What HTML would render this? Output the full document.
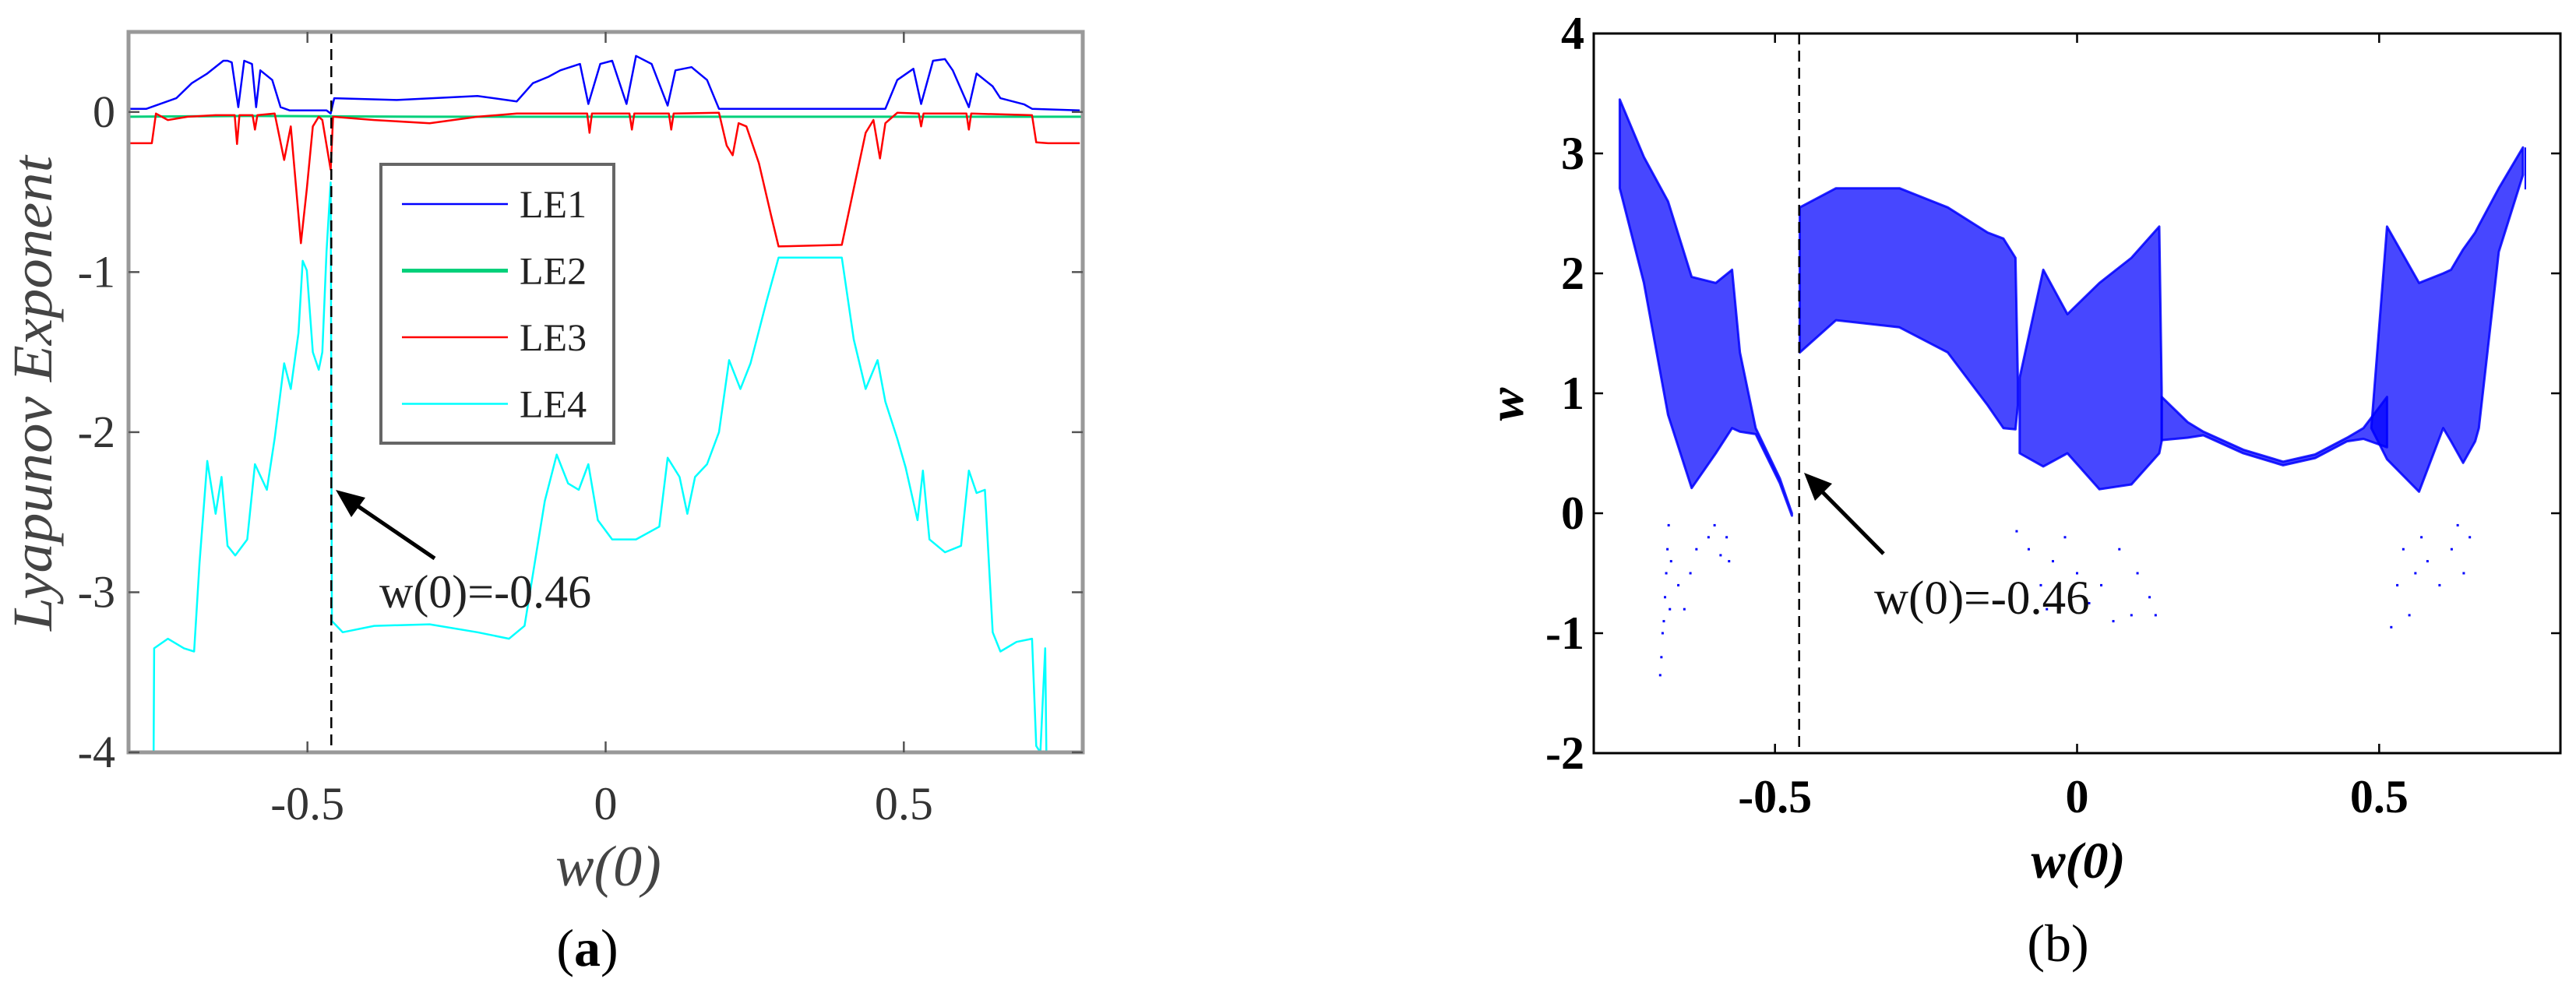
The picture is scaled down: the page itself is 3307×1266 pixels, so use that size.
<!DOCTYPE html>
<html><head><meta charset="utf-8"><style>
html,body{margin:0;padding:0;background:#fff;}
svg{display:block;}
</style></head><body>
<svg id="fig" width="3307" height="1266" viewBox="0 0 3307 1266" xmlns="http://www.w3.org/2000/svg" font-family="'Liberation Serif', serif">
<g id="pa"></g>
<g id="pb"></g>
</svg>
<script>
// ---------- Panel (a) data ----------
const le1X=[-0.8,-0.77,-0.72,-0.694,-0.668,-0.641,-0.634,-0.627,-0.616,-0.606,-0.593,-0.586,-0.579,-0.559,-0.545,-0.53,-0.468,-0.461,-0.455,-0.35,-0.215,-0.149,-0.122,-0.096,-0.076,-0.043,-0.029,-0.009,0.011,0.035,0.051,0.077,0.104,0.117,0.144,0.170,0.19,0.469,0.489,0.516,0.529,0.549,0.569,0.582,0.609,0.622,0.649,0.662,0.702,0.715,0.795];
const le1Y=[0.02,0.02,0.086,0.18,0.24,0.32,0.32,0.31,0.03,0.32,0.3,0.03,0.26,0.2,0.03,0.01,0.01,-0.01,0.086,0.075,0.1,0.066,0.18,0.22,0.26,0.3,0.05,0.3,0.32,0.05,0.35,0.3,0.04,0.26,0.28,0.2,0.02,0.02,0.2,0.27,0.05,0.32,0.33,0.26,0.03,0.24,0.16,0.086,0.047,0.02,0.01];
const le2X=[-0.8,-0.6,-0.3,0,0.3,0.6,0.8];
const le2Y=[-0.03,-0.025,-0.03,-0.03,-0.03,-0.03,-0.03];
const le3X=[-0.797,-0.761,-0.754,-0.734,-0.701,-0.654,-0.622,-0.618,-0.614,-0.592,-0.588,-0.584,-0.555,-0.539,-0.528,-0.511,-0.501,-0.491,-0.481,-0.475,-0.461,-0.457,-0.388,-0.295,-0.215,-0.149,-0.031,-0.027,-0.023,0.040,0.044,0.048,0.106,0.110,0.114,0.19,0.203,0.213,0.223,0.236,0.257,0.277,0.29,0.396,0.416,0.436,0.449,0.46,0.469,0.489,0.525,0.529,0.533,0.605,0.609,0.613,0.715,0.722,0.742,0.795];
const le3Y=[-0.195,-0.195,-0.01,-0.05,-0.03,-0.02,-0.02,-0.2,-0.02,-0.02,-0.11,-0.02,-0.01,-0.3,-0.09,-0.82,-0.48,-0.09,-0.03,-0.05,-0.36,-0.03,-0.05,-0.07,-0.03,-0.01,-0.01,-0.13,-0.01,-0.01,-0.11,-0.01,-0.01,-0.11,-0.01,-0.005,-0.21,-0.27,-0.07,-0.09,-0.32,-0.64,-0.84,-0.83,-0.48,-0.13,-0.05,-0.29,-0.07,-0.005,-0.01,-0.09,-0.01,-0.01,-0.11,-0.01,-0.02,-0.19,-0.195,-0.195];
const le4X=[-0.758,-0.757,-0.734,-0.707,-0.690,-0.681,-0.668,-0.654,-0.644,-0.634,-0.621,-0.601,-0.588,-0.568,-0.555,-0.539,-0.528,-0.515,-0.508,-0.501,-0.491,-0.481,-0.475,-0.468,-0.461,-0.459,-0.441,-0.388,-0.295,-0.215,-0.162,-0.136,-0.116,-0.102,-0.082,-0.063,-0.045,-0.029,-0.013,0.011,0.051,0.090,0.104,0.124,0.137,0.150,0.170,0.190,0.207,0.226,0.243,0.270,0.290,0.396,0.416,0.436,0.456,0.469,0.489,0.503,0.523,0.532,0.543,0.569,0.596,0.609,0.622,0.636,0.649,0.662,0.689,0.715,0.722,0.729,0.737,0.739];
const le4Y=[-4,-3.35,-3.29,-3.35,-3.37,-2.82,-2.18,-2.51,-2.28,-2.71,-2.77,-2.67,-2.2,-2.36,-2.04,-1.57,-1.73,-1.38,-0.93,-0.99,-1.5,-1.61,-1.5,-0.87,-0.44,-3.18,-3.25,-3.21,-3.2,-3.25,-3.29,-3.21,-2.75,-2.43,-2.14,-2.32,-2.36,-2.2,-2.55,-2.67,-2.67,-2.59,-2.16,-2.28,-2.51,-2.28,-2.2,-2.0,-1.55,-1.73,-1.57,-1.18,-0.91,-0.91,-1.42,-1.73,-1.55,-1.81,-2.04,-2.22,-2.55,-2.24,-2.67,-2.75,-2.71,-2.24,-2.38,-2.36,-3.25,-3.37,-3.31,-3.29,-3.96,-4,-3.35,-4];
const aXTicks=[-0.5,0,0.5], aXTickLabels=["-0.5","0","0.5"];
const aYTicks=[-4,-3,-2,-1,0], aYTickLabels=["-4","-3","-2","-1","0"];
const legendNames=["LE1","LE2","LE3","LE4"];

// ---------- Panel (b) data (band envelopes + sparse points) ----------
const bandAx=[-0.757,-0.717,-0.677,-0.638,-0.598,-0.571,-0.558,-0.532,-0.492,-0.472];
const bandAhi=[3.45,2.97,2.6,1.97,1.92,2.03,1.34,0.71,0.29,0.0];
const bandAlo=[2.71,1.92,0.82,0.21,0.5,0.71,0.68,0.66,0.25,-0.02];
const bandBx=[-0.459,-0.399,-0.294,-0.214,-0.148,-0.122,-0.102,-0.098];
const bandBhi=[2.55,2.71,2.71,2.55,2.34,2.29,2.13,1.1];
const bandBlo=[1.34,1.61,1.55,1.34,0.9,0.71,0.7,0.9];
const bandCx=[-0.095,-0.056,-0.016,0.037,0.09,0.136,0.14];
const bandChi=[1.13,2.03,1.66,1.92,2.13,2.39,1.03];
const bandClo=[0.5,0.39,0.5,0.2,0.24,0.5,0.6];
const bandDx=[0.14,0.183,0.209,0.275,0.341,0.394,0.447,0.474,0.513];
const bandDhi=[0.97,0.76,0.68,0.53,0.43,0.49,0.63,0.71,0.97];
const bandDlo=[0.61,0.63,0.65,0.5,0.4,0.46,0.6,0.62,0.55];
const bandEx=[0.487,0.513,0.566,0.606,0.619,0.639,0.659,0.665,0.698,0.738];
const bandEhi=[0.71,2.39,1.92,2.0,2.03,2.2,2.34,2.4,2.71,3.05];
const bandElo=[0.71,0.45,0.18,0.71,0.6,0.42,0.6,0.71,2.18,2.82];
const dotX=[-0.69,-0.688,-0.686,-0.684,-0.682,-0.68,-0.678,-0.676,-0.674,-0.672,-0.66,-0.65,-0.64,-0.63,-0.61,-0.6,-0.59,-0.58,-0.576,-0.1,-0.08,-0.06,-0.05,-0.04,-0.02,0.0,0.02,0.04,0.06,0.07,0.09,0.1,0.12,0.13,0.52,0.53,0.54,0.55,0.56,0.57,0.58,0.6,0.62,0.63,0.64,0.65];
const dotY=[-1.35,-1.2,-1.0,-0.9,-0.7,-0.5,-0.3,-0.1,-0.8,-0.4,-0.6,-0.8,-0.5,-0.3,-0.2,-0.1,-0.35,-0.2,-0.4,-0.15,-0.3,-0.6,-0.8,-0.4,-0.2,-0.5,-0.75,-0.6,-0.9,-0.3,-0.85,-0.5,-0.7,-0.85,-0.95,-0.6,-0.3,-0.85,-0.5,-0.2,-0.4,-0.6,-0.3,-0.1,-0.5,-0.2];
const bXTicks=[-0.5,0,0.5], bXTickLabels=["-0.5","0","0.5"];
const bYTicks=[-2,-1,0,1,2,3,4], bYTickLabels=["-2","-1","0","1","2","3","4"];

const NS="http://www.w3.org/2000/svg";
function mk(parent,tag,attrs,text){const e=document.createElementNS(NS,tag);for(const k in attrs)e.setAttribute(k,attrs[k]);if(text!==undefined)e.textContent=text;parent.appendChild(e);return e;}

// ---------- Panel (a) ----------
const pa=document.getElementById('pa');
const aL=165,aR=1390,aT=41,aB=966;
const ax=v=>aL+(v+0.8)/1.6*(aR-aL);
const ay=v=>aB-(v+4)/4.5*(aB-aT);
function line(parent,xs,ys,sx,sy,color,w,name){
  let d='';xs.forEach((x,i)=>{d+=(i?'L':'M')+sx(x).toFixed(1)+','+sy(ys[i]).toFixed(1);});
  const p=mk(parent,'path',{d:d,fill:'none',stroke:color,'stroke-width':w,'stroke-linejoin':'round'});
  
  
  return p;
}
line(pa,le2X,le2Y,ax,ay,'#00d07a',3,'series-le2');
line(pa,le1X,le1Y,ax,ay,'#0000ff',2.5,'series-le1');
line(pa,le3X,le3Y,ax,ay,'#ff0000',2.5,'series-le3');
line(pa,le4X,le4Y,ax,ay,'#00ffff',2.5,'series-le4');
const dA=mk(pa,'line',{x1:ax(-0.46),x2:ax(-0.46),y1:aT,y2:aB,stroke:'#000','stroke-width':2.5,'stroke-dasharray':'14,8'});


const boxA=mk(pa,'rect',{x:aL,y:aT,width:aR-aL,height:aB-aT,fill:'none',stroke:'#999','stroke-width':5});


aXTicks.forEach((t,i)=>{
  mk(pa,'line',{x1:ax(t),x2:ax(t),y1:aB,y2:aB-14,stroke:'#555','stroke-width':2.5});
  mk(pa,'line',{x1:ax(t),x2:ax(t),y1:aT,y2:aT+14,stroke:'#555','stroke-width':2.5});
  const tl=mk(pa,'text',{x:ax(t),y:1052,'font-size':60,'text-anchor':'middle',fill:'#333'},aXTickLabels[i]);
  
  
});
aYTicks.forEach((t,i)=>{
  mk(pa,'line',{x1:aL,x2:aL+14,y1:ay(t),y2:ay(t),stroke:'#555','stroke-width':2.5});
  mk(pa,'line',{x1:aR,x2:aR-14,y1:ay(t),y2:ay(t),stroke:'#555','stroke-width':2.5});
  const tl=mk(pa,'text',{x:148,y:ay(t)+19,'font-size':58,'text-anchor':'end',fill:'#333'},aYTickLabels[i]);
  
  
});
const yt=mk(pa,'text',{x:0,y:0,'font-size':72,'font-style':'italic','text-anchor':'middle',fill:'#444',transform:'translate(66,505) rotate(-90)',textLength:610,lengthAdjust:'spacingAndGlyphs'},'Lyapunov Exponent');


const xt=mk(pa,'text',{x:781,y:1137,'font-size':74,'font-style':'italic','text-anchor':'middle',fill:'#444'},'w(0)');


const ca=mk(pa,'text',{x:754,y:1240,'font-size':68,'text-anchor':'middle',fill:'#000'});


mk(ca,'tspan',{},'(');mk(ca,'tspan',{'font-weight':'bold'},'a');mk(ca,'tspan',{},')');
// legend
const lg=mk(pa,'g',{});


mk(lg,'rect',{x:489,y:211,width:299,height:358,fill:'#fff',stroke:'#666','stroke-width':4});
const lgCol=['#0000ff','#00d07a','#ff0000','#00ffff'],lgW=[2.5,5,2.5,2.5];
legendNames.forEach((n,i)=>{
  const yy=262+i*85.5;
  const ge=mk(lg,'g',{});
  
  
  mk(ge,'line',{x1:516,x2:652,y1:yy,y2:yy,stroke:lgCol[i],'stroke-width':lgW[i]});
  mk(ge,'text',{x:667,y:yy+17,'font-size':50,fill:'#222'},n);
});
// annotation a
const arA=mk(pa,'g',{});


mk(arA,'line',{x1:558,y1:717,x2:445,y2:640,stroke:'#000','stroke-width':5});
mk(arA,'polygon',{points:'431,629 469,639 451,664',fill:'#000'});
const anA=mk(pa,'text',{x:487,y:780,'font-size':60,fill:'#222'},'w(0)=-0.46');



// ---------- Panel (b) ----------
const pb=document.getElementById('pb');
const bL=2046,bR=3287,bT=43,bB=967;
const bx=v=>bL+(v+0.8)/1.6*(bR-bL);
const by=v=>bB-(v+2)/6*(bB-bT);
function band(xs,hi,lo,name){
  let d='';xs.forEach((x,i)=>{d+=(i?'L':'M')+bx(x).toFixed(1)+','+by(hi[i]).toFixed(1);});
  for(let i=xs.length-1;i>=0;i--)d+='L'+bx(xs[i]).toFixed(1)+','+by(lo[i]).toFixed(1);
  d+='Z';
  const p=mk(pb,'path',{d:d,fill:'#0000ff','fill-opacity':0.72,stroke:'#0000ff','stroke-width':3,'stroke-opacity':0.85,'stroke-linejoin':'round'});
  
  
}
band(bandAx,bandAhi,bandAlo,'attractor-band-left');
band(bandBx,bandBhi,bandBlo,'attractor-band-upper');
band(bandCx,bandChi,bandClo,'attractor-band-center');
band(bandDx,bandDhi,bandDlo,'attractor-band-periodic');
band(bandEx,bandEhi,bandElo,'attractor-band-right');
dotX.forEach((x,i)=>{
  const r=mk(pb,'rect',{x:bx(x)-1.5,y:by(dotY[i])-1.5,width:3,height:3,fill:'#0000ff'});
  
  
});
mk(pb,'line',{x1:bx(0.738)+3,x2:bx(0.738)+3,y1:by(3.05),y2:by(2.7),stroke:'#0000ff','stroke-width':2});
const dB=mk(pb,'line',{x1:bx(-0.46),x2:bx(-0.46),y1:bT,y2:bB,stroke:'#000','stroke-width':2.5,'stroke-dasharray':'14,8'});


const boxB=mk(pb,'rect',{x:bL,y:bT,width:bR-bL,height:bB-bT,fill:'none',stroke:'#000','stroke-width':3});


bXTicks.forEach((t,i)=>{
  mk(pb,'line',{x1:bx(t),x2:bx(t),y1:bB,y2:bB-12,stroke:'#000','stroke-width':2.5});
  mk(pb,'line',{x1:bx(t),x2:bx(t),y1:bT,y2:bT+12,stroke:'#000','stroke-width':2.5});
  const tl=mk(pb,'text',{x:bx(t),y:1043,'font-size':60,'font-weight':'bold','text-anchor':'middle',fill:'#000'},bXTickLabels[i]);
  
  
});
bYTicks.forEach((t,i)=>{
  mk(pb,'line',{x1:bL,x2:bL+12,y1:by(t),y2:by(t),stroke:'#000','stroke-width':2.5});
  mk(pb,'line',{x1:bR,x2:bR-12,y1:by(t),y2:by(t),stroke:'#000','stroke-width':2.5});
  const tl=mk(pb,'text',{x:2034,y:by(t)+20,'font-size':60,'font-weight':'bold','text-anchor':'end',fill:'#000'},bYTickLabels[i]);
  
  
});
const ybt=mk(pb,'text',{x:0,y:0,'font-size':64,'font-weight':'bold','font-style':'italic','text-anchor':'middle',fill:'#000',transform:'translate(1955,519) rotate(-90)'},'w');


const xbt=mk(pb,'text',{x:2668,y:1127,'font-size':66,'font-weight':'bold','font-style':'italic','text-anchor':'middle',fill:'#000'},'w(0)');


const cb=mk(pb,'text',{x:2642,y:1234,'font-size':68,'text-anchor':'middle',fill:'#000'},'(b)');


const arB=mk(pb,'g',{});


mk(arB,'line',{x1:2418,y1:711,x2:2328,y2:620,stroke:'#000','stroke-width':5});
mk(arB,'polygon',{points:'2316,607 2352,621 2330,643',fill:'#000'});
const anB=mk(pb,'text',{x:2406,y:788,'font-size':61,fill:'#111'},'w(0)=-0.46');


</script>
</body></html>
